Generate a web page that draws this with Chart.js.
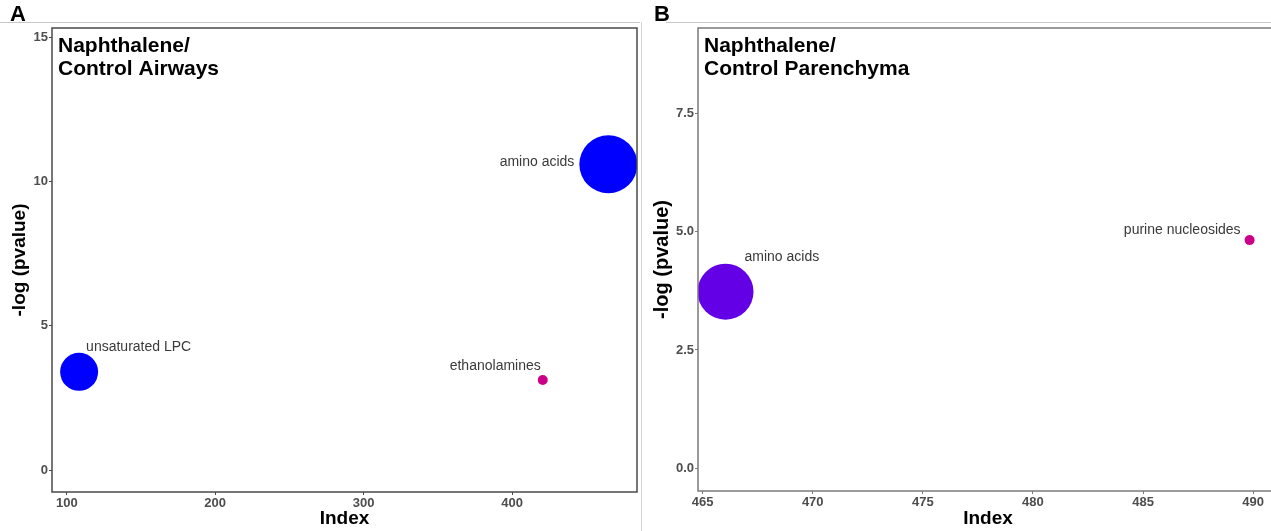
<!DOCTYPE html>
<html>
<head>
<meta charset="utf-8">
<script src="https://cdn.jsdelivr.net/npm/chart.js@4.4.1/dist/chart.umd.min.js"></script>
<style>
  html, body { margin: 0; padding: 0; background: #fff; overflow: hidden; }
  body { width: 1271px; height: 531px; position: relative; font-family: "Liberation Sans", Arial, sans-serif; }
  .panel { position: absolute; top: 0; height: 531px; }
  .letter { position: absolute; top: 1px; font-weight: bold; font-size: 22px; color: #000; }
  .hline { position: absolute; top: 22px; height: 1px; background: #c8c8c8; }
  .vline { position: absolute; top: 22px; width: 1px; height: 509px; background: #d4d4d4; }
</style>
</head>
<body>
<div class="hline" style="left:0;width:640px"></div>
<div class="hline" style="left:666px;width:605px"></div>
<div class="vline" style="left:641px"></div>
<div class="panel" style="left:0;width:640px"><canvas id="airways" width="640" height="531"></canvas></div>
<div class="panel" style="left:640px;width:640px"><canvas id="parenchyma" width="640" height="531"></canvas></div>
<div class="letter" style="left:10px">A</div>
<div class="letter" style="left:654px">B</div>

<script>
// Panel A - airways
const airwaysTitle = ["Naphthalene/", "Control Airways"];
const airwaysLabels = ["unsaturated LPC", "amino acids", "ethanolamines"];
const airwaysIndex = [108.3, 464.9, 420.7];
const airwaysLogP = [3.40, 10.59, 3.12];
const airwaysSize = [19, 29, 5];
const airwaysColors = ["#0000ff", "#0000ff", "#cc0088"];
const airwaysXTicks = [100, 200, 300, 400];
const airwaysYTicks = [0, 5, 10, 15];

// Panel B - parenchyma
const parenchymaTitle = ["Naphthalene/", "Control Parenchyma"];
const parenchymaLabels = ["amino acids", "purine nucleosides"];
const parenchymaIndex = [466.04, 489.84];
const parenchymaLogP = [3.73, 4.82];
const parenchymaSize = [28, 5];
const parenchymaColors = ["#6400e6", "#cc0088"];
const parenchymaXTicks = [465, 470, 475, 480, 485, 490];
const parenchymaYTicks = [0, 2.5, 5, 7.5];

// label placement relative to bubble centre (style only)
const airwaysLabelPos = [
  { dx: 7, dy: -25, align: "left" },
  { dx: -34, dy: -2, align: "right" },
  { dx: -2, dy: -14, align: "right" }
];
const parenchymaLabelPos = [
  { dx: 19, dy: -35, align: "left" },
  { dx: -9, dy: -10, align: "right" }
];

const labelPlugin = {
  id: "bubbleLabels",
  afterDatasetsDraw(chart, args, opts) {
    const { ctx, chartArea } = chart;
    const meta = chart.getDatasetMeta(0);
    ctx.save();
    ctx.font = "14px 'Liberation Sans', Arial, sans-serif";
    ctx.fillStyle = "#3a3a3a";
    ctx.textBaseline = "middle";
    meta.data.forEach((pt, i) => {
      const p = opts.placement[i];
      ctx.textAlign = p.align;
      ctx.fillText(opts.labels[i], pt.x + p.dx, pt.y + p.dy);
    });
    // panel title inside the plot area
    ctx.fillStyle = "#000";
    ctx.textAlign = "left";
    ctx.font = "bold 21px 'Liberation Sans', Arial, sans-serif";
    opts.title.forEach((line, i) => {
      ctx.fillText(line, chartArea.left + 6, chartArea.top + 18 + i * 23);
    });
    ctx.restore();
  },
  afterDraw(chart, args, opts) {
    const { ctx, chartArea } = chart;
    ctx.save();
    ctx.strokeStyle = opts.borderColor;
    ctx.lineWidth = 1.5;
    ctx.strokeRect(chartArea.left, chartArea.top, chartArea.right - chartArea.left, chartArea.bottom - chartArea.top);
    ctx.restore();
  }
};

function makeChart(id, cfg) {
  const tickFont = { family: "'Liberation Sans', Arial, sans-serif", size: 13, weight: "bold" };
  new Chart(document.getElementById(id), {
    type: "bubble",
    data: {
      datasets: [{
        data: cfg.xs.map((x, i) => ({ x: x, y: cfg.ys[i], r: cfg.sizes[i] })),
        backgroundColor: cfg.colors,
        borderWidth: 0,
        hoverRadius: 0
      }]
    },
    options: {
      responsive: false,
      animation: false,
      events: [],
      layout: { autoPadding: false, padding: { top: 28, right: cfg.padRight, left: 0, bottom: 0 } },
      plugins: {
        legend: { display: false },
        tooltip: { enabled: false },
        bubbleLabels: { labels: cfg.labels, placement: cfg.placement, title: cfg.title, borderColor: cfg.borderColor }
      },
      scales: {
        x: {
          type: "linear",
          min: cfg.xMin, max: cfg.xMax,
          afterBuildTicks: s => { s.ticks = cfg.xTicks.map(v => ({ value: v })); },
          afterFit: s => { s.height = cfg.xAxisHeight; s.paddingLeft = 0; s.paddingRight = 0; },
          ticks: { font: tickFont, color: "#4d4d4d", padding: 1, maxRotation: 0 },
          grid: { drawOnChartArea: false, tickLength: 3, color: cfg.borderColor },
          border: { display: false },
          title: {
            display: true, text: "Index", color: "#000",
            font: { family: "'Liberation Sans', Arial, sans-serif", size: 19, weight: "bold" },
            padding: { top: 0, bottom: 1 }
          }
        },
        y: {
          type: "linear",
          min: cfg.yMin, max: cfg.yMax,
          afterBuildTicks: s => { s.ticks = cfg.yTicks.map(v => ({ value: v })); },
          afterFit: s => { s.width = cfg.yAxisWidth; s.paddingTop = 0; s.paddingBottom = 0; },
          ticks: { font: tickFont, color: "#4d4d4d", padding: 1, callback: cfg.yFormat },
          grid: { drawOnChartArea: false, tickLength: 3, color: cfg.borderColor },
          border: { display: false },
          title: {
            display: true, text: "-log (pvalue)", color: "#000",
            font: { family: "'Liberation Sans', Arial, sans-serif", size: cfg.yTitleSize, weight: "bold" },
            padding: { top: cfg.yTitlePad, bottom: 0 }
          }
        }
      }
    },
    plugins: [labelPlugin]
  });
}

makeChart("airways", {
  xs: airwaysIndex, ys: airwaysLogP, sizes: airwaysSize, colors: airwaysColors,
  labels: airwaysLabels, placement: airwaysLabelPos, title: airwaysTitle,
  xTicks: airwaysXTicks, yTicks: airwaysYTicks,
  xMin: 90.03, xMax: 484.2, yMin: -0.762, yMax: 15.312,
  yAxisWidth: 52, xAxisHeight: 39, padRight: 3,
  yTitleSize: 19, yTitlePad: 8, borderColor: "#4a4a4a",
  yFormat: v => String(v)
});

makeChart("parenchyma", {
  xs: parenchymaIndex, ys: parenchymaLogP, sizes: parenchymaSize, colors: parenchymaColors,
  labels: parenchymaLabels, placement: parenchymaLabelPos, title: parenchymaTitle,
  xTicks: parenchymaXTicks, yTicks: parenchymaYTicks,
  xMin: 464.79, xMax: 491.13, yMin: -0.48, yMax: 9.30,
  yAxisWidth: 58, xAxisHeight: 40, padRight: 2,
  yTitleSize: 20, yTitlePad: 10, borderColor: "#7a7a7a",
  yFormat: v => v.toFixed(1)
});
</script>
</body>
</html>
